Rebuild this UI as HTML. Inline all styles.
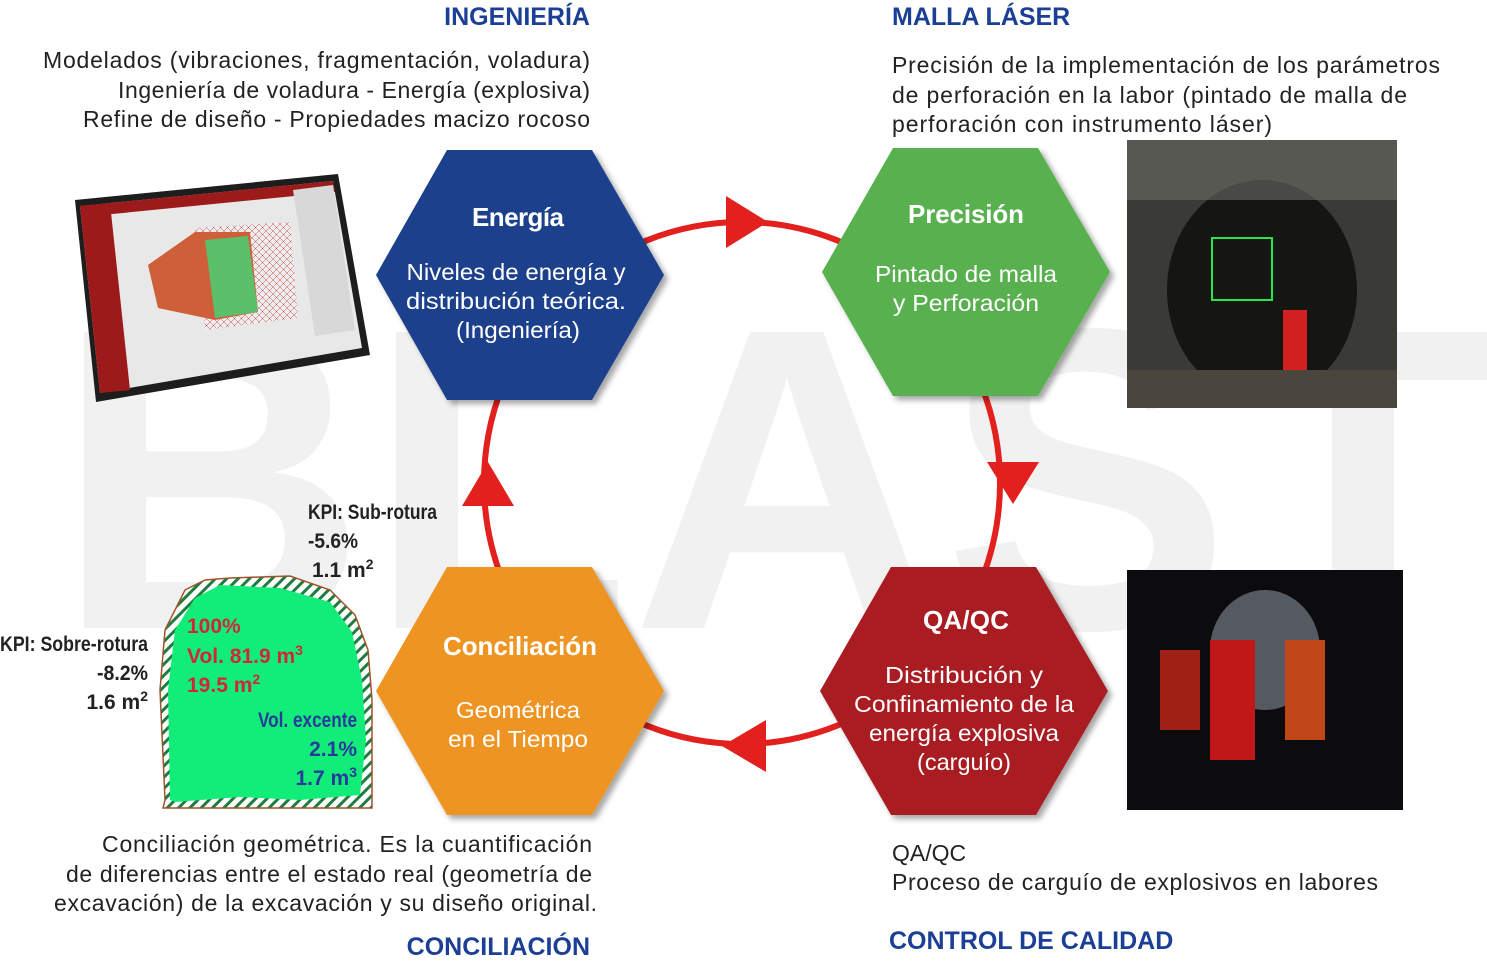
<!DOCTYPE html>
<html><head><meta charset="utf-8"><style>
html,body{margin:0;padding:0;background:#fff;width:1487px;height:964px;overflow:hidden}
svg{display:block}
.t{font-family:"Liberation Sans",sans-serif}
.h{font-family:"Liberation Sans",sans-serif;font-weight:bold;fill:#1b3f94;font-size:25px}
.d{font-family:"Liberation Sans",sans-serif;fill:#222;font-size:23px}
.w{fill:#fff;font-size:26px;text-anchor:middle}
.b{font-size:23px}
.k{font-family:"Liberation Sans",sans-serif;font-weight:bold;font-size:21px}
</style></head><body>
<svg width="1487" height="964" viewBox="0 0 1487 964" xmlns="http://www.w3.org/2000/svg">
<defs>
<pattern id="hatch" width="8" height="8" patternUnits="userSpaceOnUse" patternTransform="rotate(45)"><rect width="8" height="8" fill="#fff"/><rect width="3" height="8" fill="#1e7d3e"/></pattern>
<pattern id="grid" width="7" height="7" patternUnits="userSpaceOnUse"><rect width="7" height="7" fill="#eee"/><path d="M0,0 L7,7 M7,0 L0,7" stroke="#c44" stroke-width="0.5"/></pattern>
<filter id="sh" x="-10%" y="-10%" width="130%" height="130%"><feDropShadow dx="4" dy="4" stdDeviation="3" flood-opacity="0.35"/></filter>
</defs>
<text x="55" y="628" font-family="Liberation Sans" font-weight="bold" font-size="430" fill="#f1f1f1" textLength="1440" lengthAdjust="spacingAndGlyphs">BLAST</text>

<text class="h" x="590" y="25" text-anchor="end">INGENIERÍA</text>
<text class="h" x="892" y="25">MALLA LÁSER</text>
<text class="h" x="590" y="955" text-anchor="end">CONCILIACIÓN</text>
<text class="h" x="889" y="949">CONTROL DE CALIDAD</text>

<text class="d"><tspan x="43" y="68" textLength="547">Modelados (vibraciones, fragmentación, voladura)</tspan></text>
<text class="d"><tspan x="118" y="98" textLength="472">Ingeniería de voladura - Energía (explosiva)</tspan></text>
<text class="d"><tspan x="83" y="127" textLength="507">Refine de diseño - Propiedades macizo rocoso</tspan></text>
<text class="d"><tspan x="892" y="73" textLength="548">Precisión de la implementación de los parámetros</tspan></text>
<text class="d"><tspan x="892" y="103" textLength="515">de perforación en la labor  (pintado de malla de</tspan></text>
<text class="d"><tspan x="892" y="132" textLength="380">perforación con instrumento láser)</tspan></text>
<text class="d"><tspan x="102" y="852" textLength="490">Conciliación geométrica. Es la cuantificación</tspan></text>
<text class="d"><tspan x="66" y="882" textLength="526">de diferencias entre el estado real (geometría de</tspan></text>
<text class="d"><tspan x="54" y="911" textLength="543">excavación) de la excavación y su diseño original.</tspan></text>
<text class="d"><tspan x="892" y="861">QA/QC</tspan></text>
<text class="d"><tspan x="892" y="890" textLength="486">Proceso de carguío de explosivos en labores</tspan></text>

<ellipse cx="742" cy="483" rx="258" ry="261" fill="none" stroke="#e2201e" stroke-width="6"/>
<polygon points="726,196 768,222 726,248" fill="#e2201e"/>
<polygon points="987,462 1039,462 1013,504" fill="#e2201e"/>
<polygon points="766,720 766,772 722,746" fill="#e2201e"/>
<polygon points="462,506 514,506 488,462" fill="#e2201e"/>

<polygon filter="url(#sh)" points="376,275 447,150 592,150 664,275 592,400 447,400" fill="#1b3f8c"/>
<polygon filter="url(#sh)" points="822,272 893,148 1038,148 1110,272 1038,396 893,396" fill="#59b04f"/>
<polygon filter="url(#sh)" points="820,691 891,567 1036,567 1108,691 1036,815 891,815" fill="#a81e22"/>
<polygon filter="url(#sh)" points="376,691 447,567 592,567 664,691 592,815 447,815" fill="#ee9424"/>

<g class="t">
<text class="w" font-weight="bold" x="518" y="226" textLength="92">Energía</text>
<text class="w b" x="516" y="280" textLength="219" lengthAdjust="spacingAndGlyphs">Niveles de energía y</text>
<text class="w b" x="516" y="309" textLength="220" lengthAdjust="spacingAndGlyphs">distribución teórica.</text>
<text class="w b" x="518" y="338" textLength="124" lengthAdjust="spacingAndGlyphs">(Ingeniería)</text>
<text class="w" font-weight="bold" x="966" y="223" textLength="116">Precisión</text>
<text class="w b" x="966" y="282" textLength="182" lengthAdjust="spacingAndGlyphs">Pintado de malla</text>
<text class="w b" x="966" y="311" textLength="146" lengthAdjust="spacingAndGlyphs">y Perforación</text>
<text class="w" font-weight="bold" x="966" y="629" textLength="86">QA/QC</text>
<text class="w b" x="964" y="683" textLength="158" lengthAdjust="spacingAndGlyphs">Distribución y</text>
<text class="w b" x="964" y="712" textLength="220" lengthAdjust="spacingAndGlyphs">Confinamiento de la</text>
<text class="w b" x="964" y="741" textLength="190" lengthAdjust="spacingAndGlyphs">energía explosiva</text>
<text class="w b" x="964" y="770" textLength="94" lengthAdjust="spacingAndGlyphs">(carguío)</text>
<text class="w" font-weight="bold" x="520" y="655" textLength="154">Conciliación</text>
<text class="w b" x="518" y="718" textLength="124" lengthAdjust="spacingAndGlyphs">Geométrica</text>
<text class="w b" x="518" y="747" textLength="140" lengthAdjust="spacingAndGlyphs">en el Tiempo</text>
</g>

<rect x="1127" y="140" width="270" height="268" fill="#3a3a36"/>
<ellipse cx="1262" cy="290" rx="95" ry="110" fill="#151514"/>
<rect x="1127" y="140" width="270" height="60" fill="#6d6c66" opacity="0.6"/>
<rect x="1212" y="238" width="60" height="62" fill="none" stroke="#2be54a" stroke-width="2"/>
<rect x="1283" y="310" width="24" height="70" fill="#d02020"/>
<rect x="1127" y="370" width="270" height="38" fill="#4a463e"/>
<rect x="1127" y="570" width="276" height="240" fill="#0c0c0e"/>
<ellipse cx="1265" cy="650" rx="55" ry="60" fill="#555a60"/>
<rect x="1160" y="650" width="40" height="80" fill="#a02015"/>
<rect x="1210" y="640" width="45" height="120" fill="#c01818"/>
<rect x="1285" y="640" width="40" height="100" fill="#c04818"/>

<polygon points="75,200 338,174 370,355 96,402" fill="#1d1d1d"/>
<polygon points="80,206 333,181 362,348 100,393" fill="#e8e8e8"/>
<polygon points="80,206 110,203 130,390 100,393" fill="#9c1a1a"/>
<polygon points="80,206 333,181 335,192 82,217" fill="#9c1a1a"/>
<polygon points="293,190 333,185 355,330 315,336" fill="#d8d8d8"/>
<polygon points="195,228 290,222 298,318 205,330" fill="url(#grid)"/>
<polygon points="148,265 195,232 250,232 258,312 215,320 158,308" fill="#cf5f38"/>
<polygon points="205,240 248,236 258,312 215,318" fill="#5cbf6a"/>

<path d="M165,800 L160,690 L165,630 L185,590 L205,580 L230,578 L290,576 L330,590 L355,615 L368,650 L372,700 L372,808 L163,808 Z" fill="url(#hatch)" stroke="#a0522d" stroke-width="1.5"/>
<path d="M170,800 L168,690 L175,630 L195,598 L220,585 L280,588 L330,602 L352,632 L362,680 L366,740 L360,795 L300,800 L240,797 L175,802 Z" fill="#12ed7a"/>
<g class="k">
<text x="308" y="519" fill="#222" textLength="129" lengthAdjust="spacingAndGlyphs">KPI: Sub-rotura</text>
<text x="308" y="548" fill="#222" textLength="50" lengthAdjust="spacingAndGlyphs">-5.6%</text>
<text x="312" y="577" fill="#222">1.1 m<tspan dy="-8" font-size="14">2</tspan></text>
<text x="0" y="651" fill="#222" textLength="148" lengthAdjust="spacingAndGlyphs">KPI: Sobre-rotura</text>
<text x="97" y="680" fill="#222" textLength="51" lengthAdjust="spacingAndGlyphs">-8.2%</text>
<text x="148" y="709" fill="#222" text-anchor="end">1.6 m<tspan dy="-8" font-size="14">2</tspan></text>
<text x="187" y="633" fill="#d0263a">100%</text>
<text x="187" y="663" fill="#d0263a">Vol. 81.9 m<tspan dy="-8" font-size="14">3</tspan></text>
<text x="187" y="692" fill="#d0263a">19.5 m<tspan dy="-8" font-size="14">2</tspan></text>
<text x="258" y="727" fill="#2a3a9a" textLength="99" lengthAdjust="spacingAndGlyphs">Vol. excente</text>
<text x="357" y="756" fill="#2a3a9a" text-anchor="end">2.1%</text>
<text x="357" y="785" fill="#2a3a9a" text-anchor="end">1.7 m<tspan dy="-8" font-size="14">3</tspan></text>
</g>
</svg>
</body></html>
